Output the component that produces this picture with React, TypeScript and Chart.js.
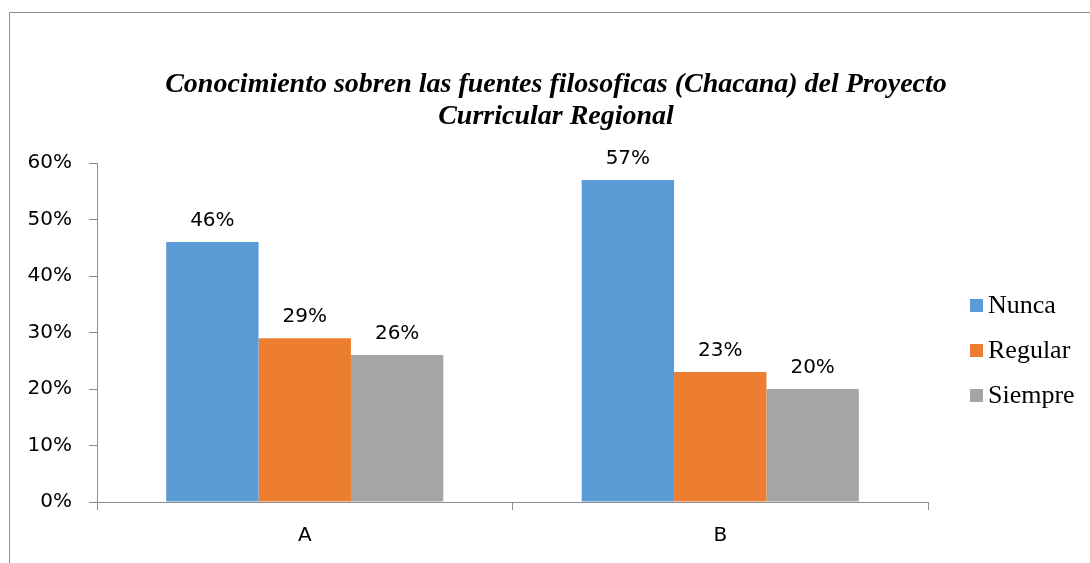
import React, { useEffect, useRef } from "react";
import { Chart, registerables } from "chart.js";

Chart.register(...registerables);

const categories = ["A", "B"];
const seriesNames = ["Nunca", "Regular", "Siempre"];
const nunca = [46, 57];
const regular = [29, 23];
const siempre = [26, 20];
const seriesColors = ["#5B9BD5", "#ED7D31", "#A5A5A5"];
const titleLines = [
  "Conocimiento sobren las fuentes filosoficas (Chacana) del Proyecto",
  "Curricular Regional",
];
const yMax = 60;
const yStep = 10;

const W = 1090;
const H = 563;

const decorPlugin = {
  id: "decor",
  beforeDraw(chart: any) {
    const ctx = chart.ctx;
    ctx.save();
    ctx.fillStyle = "#ffffff";
    ctx.fillRect(0, 0, W, H);
    ctx.strokeStyle = "#8c8c8c";
    ctx.lineWidth = 1;
    ctx.beginPath();
    ctx.moveTo(9.5, H);
    ctx.lineTo(9.5, 12.5);
    ctx.lineTo(W, 12.5);
    ctx.stroke();
    ctx.restore();
  },
  afterDraw(chart: any) {
    const ctx = chart.ctx;
    ctx.save();
    // title
    ctx.fillStyle = "#000";
    ctx.textAlign = "center";
    ctx.textBaseline = "alphabetic";
    ctx.font = "italic bold 28px 'Liberation Serif', 'Times New Roman', serif";
    ctx.fillText(titleLines[0], 556, 92);
    ctx.fillText(titleLines[1], 556, 124);

    // data labels
    ctx.font = "20px 'DejaVu Sans', sans-serif";
    ctx.textAlign = "center";
    chart.data.datasets.forEach((ds: any, i: number) => {
      const meta = chart.getDatasetMeta(i);
      meta.data.forEach((bar: any, j: number) => {
        ctx.fillStyle = "#000";
        ctx.fillText(ds.data[j] + "%", bar.x, bar.y - 16);
      });
    });

    // legend
    ctx.textAlign = "left";
    ctx.font = "26px 'Liberation Serif', 'Times New Roman', serif";
    seriesNames.forEach((name, i) => {
      const y = 299 + i * 45;
      ctx.fillStyle = seriesColors[i];
      ctx.fillRect(970, y, 13, 13);
      ctx.fillStyle = "#000";
      ctx.fillText(name, 988, y + 14);
    });
    ctx.restore();
  },
};

export default function App() {
  const ref = useRef<HTMLCanvasElement>(null);
  useEffect(() => {
    if (!ref.current) return;
    const seriesData = [nunca, regular, siempre];
    const chart = new Chart(ref.current, {
      type: "bar",
      data: {
        labels: categories,
        datasets: seriesNames.map((n, i) => ({
          label: n,
          data: seriesData[i],
          backgroundColor: seriesColors[i],
          borderWidth: 0,
          barPercentage: 1,
          categoryPercentage: 0.667,
        })),
      },
      options: {
        responsive: false,
        animation: false,
        devicePixelRatio: 1,
        layout: { padding: { top: 163, left: 0, right: 162, bottom: 0 } },
        plugins: {
          legend: { display: false },
          title: { display: false },
          tooltip: { enabled: false },
        },
        scales: {
          x: {
            afterFit: (s: any) => {
              s.height = 61;
            },
            grid: {
              display: true,
              drawOnChartArea: false,
              drawTicks: true,
              tickLength: 8,
              color: "#8c8c8c",
              offset: true,
            },
            border: { display: true, color: "#8c8c8c" },
            ticks: {
              color: "#000",
              padding: 14,
              font: { family: "'DejaVu Sans', sans-serif", size: 20 },
            },
          },
          y: {
            min: 0,
            max: yMax,
            afterFit: (s: any) => {
              s.width = 97;
            },
            grid: {
              display: true,
              drawOnChartArea: false,
              drawTicks: true,
              tickLength: 8,
              color: "#8c8c8c",
            },
            border: { display: true, color: "#8c8c8c" },
            ticks: {
              stepSize: yStep,
              color: "#000",
              padding: 17,
              font: { family: "'DejaVu Sans', sans-serif", size: 20 },
              callback: (v: any) => v + "%",
            },
          },
        },
      },
      plugins: [decorPlugin],
    });
    return () => chart.destroy();
  }, []);
  return (
    <div style={{ position: "absolute", left: 0, top: 0, width: W, height: H }}>
      <canvas ref={ref} width={W} height={H} style={{ display: "block" }} />
    </div>
  );
}
